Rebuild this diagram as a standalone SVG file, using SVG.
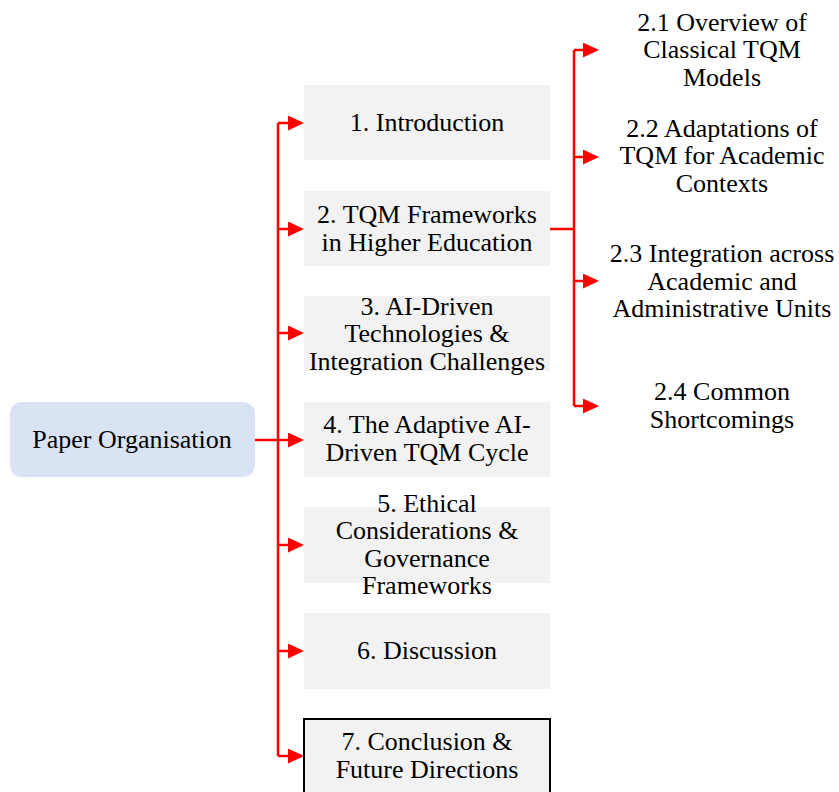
<svg xmlns="http://www.w3.org/2000/svg" width="839" height="792" viewBox="0 0 839 792">
  <style>
    .lbl { font-family: "Liberation Serif", "Times New Roman", serif; font-size: 26px; fill: #000; text-anchor: middle; }
    .box { fill: #F2F2F2; }
    .root { fill: #DAE3F3; }
    .wire { fill: none; stroke: #FF0000; stroke-width: 2.5; }
  </style>
  <defs>
    <marker id="arrow" viewBox="0 0 16 15" refX="2" refY="7.5" markerWidth="16" markerHeight="15" markerUnits="userSpaceOnUse" orient="auto">
      <path d="M0,0 L16,7.5 L0,15 Z" fill="#FF0000"/>
    </marker>
  </defs>

  <!-- connectors -->
  <g id="connectors">
    <!-- main trunk -->
    <path class="wire" d="M278,123 V756"/>
    <path class="wire" d="M255,440 H290" marker-end="url(#arrow)"/>
    <path class="wire" d="M278,123 H290" marker-end="url(#arrow)"/>
    <path class="wire" d="M278,229 H290" marker-end="url(#arrow)"/>
    <path class="wire" d="M278,333 H290" marker-end="url(#arrow)"/>
    <path class="wire" d="M278,545 H290" marker-end="url(#arrow)"/>
    <path class="wire" d="M278,651 H290" marker-end="url(#arrow)"/>
    <path class="wire" d="M278,756 H290" marker-end="url(#arrow)"/>
    <!-- section 2 sub-branch -->
    <path class="wire" d="M550,229 H574"/>
    <path class="wire" d="M574,50 V406"/>
    <path class="wire" d="M574,50 H585" marker-end="url(#arrow)"/>
    <path class="wire" d="M574,157 H585" marker-end="url(#arrow)"/>
    <path class="wire" d="M574,281 H585" marker-end="url(#arrow)"/>
    <path class="wire" d="M574,406 H585" marker-end="url(#arrow)"/>
  </g>

  <g id="paper-organisation">
    <rect class="root" x="10" y="402" width="245" height="75" rx="12"/>
    <text class="lbl" x="132" y="448">Paper Organisation</text>
  </g>

  <g id="s1">
    <rect class="box" x="304" y="85" width="246" height="75"/>
    <text class="lbl" x="427" y="131">1. Introduction</text>
  </g>

  <g id="s2">
    <rect class="box" x="304" y="191" width="246" height="75"/>
    <text class="lbl" x="427" y="223">2. TQM Frameworks</text>
    <text class="lbl" x="427" y="251">in Higher Education</text>
  </g>

  <g id="s3">
    <rect class="box" x="304" y="296" width="246" height="75"/>
    <text class="lbl" x="427" y="315">3. AI-Driven</text>
    <text class="lbl" x="427" y="342">Technologies &amp;</text>
    <text class="lbl" x="427" y="370">Integration Challenges</text>
  </g>

  <g id="s4">
    <rect class="box" x="304" y="402" width="246" height="75"/>
    <text class="lbl" x="427" y="433">4. The Adaptive AI-</text>
    <text class="lbl" x="427" y="461">Driven TQM Cycle</text>
  </g>

  <g id="s5">
    <rect class="box" x="304" y="507" width="246" height="76"/>
    <text class="lbl" x="427" y="512">5. Ethical</text>
    <text class="lbl" x="427" y="539">Considerations &amp;</text>
    <text class="lbl" x="427" y="567">Governance</text>
    <text class="lbl" x="427" y="594">Frameworks</text>
  </g>

  <g id="s6">
    <rect class="box" x="304" y="613" width="246" height="76"/>
    <text class="lbl" x="427" y="659">6. Discussion</text>
  </g>

  <g id="s7">
    <rect class="box" x="304" y="719" width="246" height="76" stroke="#000" stroke-width="2"/>
    <text class="lbl" x="427" y="750">7. Conclusion &amp;</text>
    <text class="lbl" x="427" y="778">Future Directions</text>
  </g>

  <g id="s2-1">
    <text class="lbl" x="722" y="31">2.1 Overview of</text>
    <text class="lbl" x="722" y="58">Classical TQM</text>
    <text class="lbl" x="722" y="86">Models</text>
  </g>

  <g id="s2-2">
    <text class="lbl" x="722" y="137">2.2 Adaptations of</text>
    <text class="lbl" x="722" y="164">TQM for Academic</text>
    <text class="lbl" x="722" y="192">Contexts</text>
  </g>

  <g id="s2-3">
    <text class="lbl" x="722" y="262">2.3 Integration across</text>
    <text class="lbl" x="722" y="290">Academic and</text>
    <text class="lbl" x="722" y="317">Administrative Units</text>
  </g>

  <g id="s2-4">
    <text class="lbl" x="722" y="400">2.4 Common</text>
    <text class="lbl" x="722" y="428">Shortcomings</text>
  </g>
</svg>
